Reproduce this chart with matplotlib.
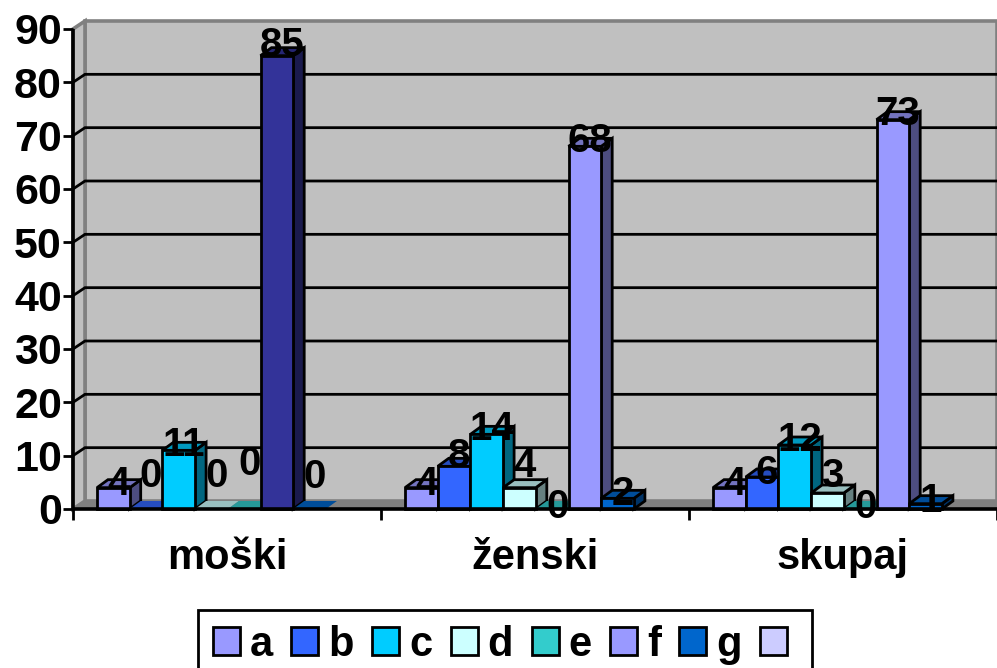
# -*- coding: utf-8 -*-
import matplotlib
matplotlib.use("Agg")
import matplotlib.pyplot as plt
from matplotlib.patches import Patch, Polygon
from matplotlib.colors import to_rgb

plt.rcParams["font.family"] = ["Liberation Sans", "DejaVu Sans"]
plt.rcParams["font.weight"] = "bold"

# data
kategorije = ["moški", "ženski", "skupaj"]
serije = ["a", "b", "c", "d", "e", "f", "g", ""]
moski = [4, 0, 11, 0, 0, 85, 0]
zenski = [4, 8, 14, 4, 0, 68, 2]
skupaj = [4, 6, 12, 3, 0, 73, 1]
barve = ["#9999FF", "#3366FF", "#00CCFF", "#CCFFFF", "#33CCCC", "#9999FF", "#0066CC", "#CCCCFF"]
barva_moski_f = "#333399"
y_oznake = [0, 10, 20, 30, 40, 50, 60, 70, 80, 90]

# label lift above the bar top, pixels (labels were hand placed in the original)
dvig_moski = [8, 37, 9, 37, 49, 15, 36]
dvig_zenski = [8, 14, 9, 26, 6, 9, 8]
dvig_skupaj = [8, 8, 9, 21, 6, 10, 7]

W, H = 997, 668
fig = plt.figure(figsize=(W / 100, H / 100), dpi=100)
ax = fig.add_axes([73 / W, 1 - 509 / H, (997 - 73) / W, 480 / H])
ax.set_xlim(0, 3)
ax.set_ylim(0, 90)
ax.patch.set_visible(False)
for s in ax.spines.values():
    s.set_visible(False)

# sizes in data units
px_x = 3 / (997 - 73)
px_y = 90 / 480
dx, dy = 12 * px_x, 8 * px_y
sirina = 32.7 * px_x
zamik = 24 * px_x
LW = 2.0


def shade(c, f):
    r, g, b = to_rgb(c)
    return (r * f, g * f, b * f)


# walls and floor
ax.add_patch(Polygon([(dx, dy), (3, dy), (3, 90 + dy), (dx, 90 + dy)], fc="#C0C0C0",
                     ec="#808080", lw=2.6, clip_on=False, zorder=1))
ax.add_patch(Polygon([(0, 0), (dx, dy), (dx, 90 + dy), (0, 90)], fc="#C0C0C0",
                     ec="#808080", lw=2.6, clip_on=False, zorder=1))
ax.add_patch(Polygon([(0, 0), (3, 0), (3, dy), (dx, dy)], fc="#808080",
                     ec="#808080", lw=1, clip_on=False, zorder=1))

# gridlines on the back wall, with the step across the side wall
for v in y_oznake[1:-1]:
    ax.plot([0, dx, 3], [v, v + dy, v + dy], color="black", lw=2.0, clip_on=False,
            zorder=2, solid_joinstyle="miter")

# bars
z = 3
oznake = []
for k, (vrednosti, dvigi) in enumerate(zip([moski, zenski, skupaj],
                                           [dvig_moski, dvig_zenski, dvig_skupaj])):
    for i, (v, d) in enumerate(zip(vrednosti, dvigi)):
        barva = barve[i]
        if k == 0 and i == 5:
            barva = barva_moski_f
        x0 = k + zamik + i * sirina
        x1 = x0 + sirina
        bdx = 11 * px_x
        ec = "black" if v > 0 else "none"
        ax.add_patch(Polygon([(x1, 0), (x1 + bdx, dy), (x1 + bdx, v + dy), (x1, v)],
                             fc=shade(barva, 0.5), ec=ec, lw=LW, clip_on=False, zorder=z))
        ax.add_patch(Polygon([(x0, v), (x1, v), (x1 + bdx, v + dy), (x0 + bdx, v + dy)],
                             fc=shade(barva, 0.75), ec=ec, lw=LW, clip_on=False, zorder=z))
        ax.bar(x0, v, sirina, align="edge", color=barva, edgecolor=ec, linewidth=LW,
               clip_on=False, zorder=z)
        z += 1
        oznake.append((x0 + sirina / 2, v, d))

# axis lines
ax.plot([0, 0], [0, 90], color="black", lw=2.6, clip_on=False, zorder=z, solid_capstyle="butt")
ax.plot([0, 3], [0, 0], color="black", lw=2.6, clip_on=False, zorder=z, solid_capstyle="butt")

ax.set_yticks(y_oznake)
ax.set_yticklabels([str(v) for v in y_oznake], fontsize=31, fontweight="bold", color="black")
ax.tick_params(axis="y", length=7, width=2.0, pad=1, color="black")
ax.set_xticks([0.5, 1.5, 2.5])
ax.set_xticklabels(kategorije, fontsize=30, fontweight="bold", color="black")
ax.tick_params(axis="x", which="major", length=0, pad=21)
ax.set_xticks([0, 1, 2, 3], minor=True)
ax.tick_params(axis="x", which="minor", length=8, width=2.0, color="black")

# data labels
for x, v, d in oznake:
    ax.annotate(str(v), xy=(x, v), xytext=(5, d), textcoords="offset pixels",
                ha="center", va="center_baseline", fontsize=29, fontweight="bold",
                color="black", annotation_clip=False, zorder=z + 5)

# legend
rocke = [Patch(fc=c, ec="black", lw=2.0) for c in barve]
leg = fig.legend(rocke, serije, ncol=8, loc="upper left",
                 bbox_to_anchor=(198 / W, 1 - 610 / H), bbox_transform=fig.transFigure,
                 fontsize=30, frameon=True, fancybox=False, edgecolor="black", framealpha=1,
                 handlelength=0.65, handleheight=0.67, handletextpad=0.24,
                 columnspacing=0.44, borderpad=0.35, borderaxespad=0)
leg.get_frame().set_linewidth(2.0)

fig.savefig("out.png", dpi=100)
